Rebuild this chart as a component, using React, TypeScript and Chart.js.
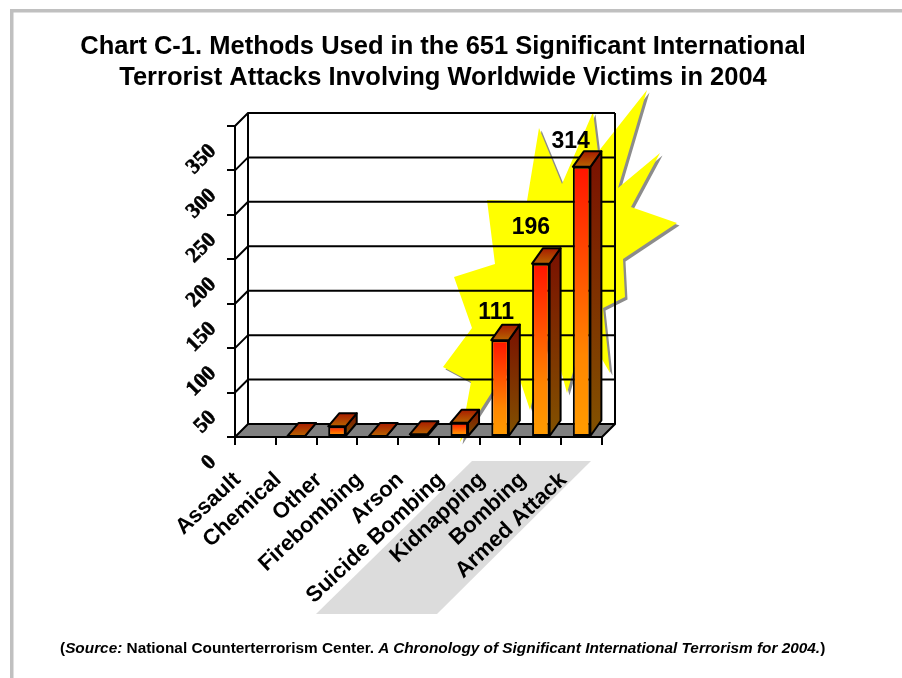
import React, { useEffect, useRef } from "react";
import { Chart, registerables } from "chart.js";

Chart.register(...registerables);

const titleLines = [
  "Chart C-1. Methods Used in the 651 Significant International",
  "Terrorist Attacks Involving Worldwide Victims in 2004",
];
const categories = [
  "Assault",
  "Chemical",
  "Other",
  "Firebombing",
  "Arson",
  "Suicide Bombing",
  "Kidnapping",
  "Bombing",
  "Armed Attack",
];
const barHeights = [0, 1, 12, 1, 3, 16, 109, 195, 304];
const calloutTexts = ["", "", "", "", "", "", "111", "196", "314"];
const yTickStep = 50;
const yTickMax = 350;

const SANS = "'Liberation Sans', Arial, sans-serif";
const SERIF = "'Liberation Serif', 'Times New Roman', serif";
const DEPTH = 13;

function poly(ctx: CanvasRenderingContext2D, pts: number[][]) {
  ctx.beginPath();
  pts.forEach((p, i) => (i ? ctx.lineTo(p[0], p[1]) : ctx.moveTo(p[0], p[1])));
  ctx.closePath();
}

function grad(ctx: CanvasRenderingContext2D, y0: number, y1: number, a: string, b: string) {
  const g = ctx.createLinearGradient(0, y0, 0, y1);
  g.addColorStop(0, a);
  g.addColorStop(1, b);
  return g;
}

const backdrop = {
  id: "backdrop",
  beforeDraw(chart: any) {
    const { ctx, width, height } = chart;
    ctx.save();
    ctx.fillStyle = "#ffffff";
    ctx.fillRect(0, 0, width, height);
    ctx.fillStyle = "#c0c0c0";
    ctx.fillRect(10, 9, width - 10, 3.5);
    ctx.fillRect(10, 9, 3.5, height - 9);

    ctx.fillStyle = "#dcdcdc";
    poly(ctx, [[472, 461], [591, 461], [437, 614], [316, 614]]);
    ctx.fill();

    const star = [
      [647, 90], [618, 188], [660, 153], [631, 207], [677, 223], [623, 259],
      [625, 297], [603, 308], [610, 373], [585, 330], [567, 393], [550, 330],
      [530, 410], [513, 359], [460, 442], [471, 382], [443, 367], [472, 328],
      [454, 277], [495, 264], [487, 200], [527, 201], [539, 128], [562, 184],
      [593, 112], [598, 152],
    ];
    ctx.fillStyle = "#8c8c8c";
    poly(ctx, star.map((p) => [p[0] + 2.5, p[1] + 2.5]));
    ctx.fill();
    ctx.fillStyle = "#ffff00";
    poly(ctx, star);
    ctx.fill();

    // back wall, floor and depth lines, all hung from the chart's own scales
    const { x, y } = chart.scales;
    const l = x.left;
    const r = x.right;
    const b = y.getPixelForValue(0);
    const t = y.getPixelForValue(yTickMax);
    ctx.fillStyle = "#808080";
    poly(ctx, [[l, b], [r, b], [r + DEPTH, b - DEPTH], [l + DEPTH, b - DEPTH]]);
    ctx.fill();
    ctx.strokeStyle = "#000000";
    ctx.lineWidth = 2;
    y.ticks.forEach((tk: any) => {
      const py = y.getPixelForValue(tk.value);
      ctx.beginPath();
      ctx.moveTo(l, py);
      ctx.lineTo(l + DEPTH, py - DEPTH);
      ctx.lineTo(r + DEPTH, py - DEPTH);
      ctx.stroke();
    });
    ctx.beginPath();
    ctx.moveTo(l + DEPTH, b - DEPTH);
    ctx.lineTo(l + DEPTH, t - DEPTH);
    ctx.moveTo(r + DEPTH, t - DEPTH);
    ctx.lineTo(r + DEPTH, b - DEPTH);
    ctx.lineTo(r, b);
    ctx.stroke();
    ctx.restore();
  },
};

const bars3d = {
  id: "bars3d",
  afterDatasetsDraw(chart: any) {
    const { ctx } = chart;
    const meta = chart.getDatasetMeta(0);
    ctx.save();
    ctx.strokeStyle = "#000000";
    ctx.lineWidth = 2;
    ctx.lineJoin = "round";
    meta.data.forEach((bar: any, i: number) => {
      if (!barHeights[i]) return;
      const hw = bar.width / 2;
      const x0 = bar.x - hw;
      const x1 = bar.x + hw;
      const top = bar.y;
      const base = bar.base;
      const dx = 11;
      const dy = barHeights[i] > 50 ? 15.5 : 13;
      ctx.fillStyle = grad(ctx, top - dy, base, "#7a1000", "#825200");
      poly(ctx, [[x1, top], [x1 + dx, top - dy], [x1 + dx, base - dy], [x1, base]]);
      ctx.fill();
      ctx.stroke();
      ctx.fillStyle = grad(ctx, top - dy, top, "#a81c00", "#b86400");
      poly(ctx, [[x0, top], [x0 + dx, top - dy], [x1 + dx, top - dy], [x1, top]]);
      ctx.fill();
      ctx.stroke();
    });
    ctx.fillStyle = "#000000";
    ctx.font = "bold 23px " + SANS;
    ctx.textAlign = "center";
    ctx.textBaseline = "middle";
    const shift: Record<string, number[]> = { "111": [-4, -27], "196": [-10, -36], "314": [-11, -25] };
    meta.data.forEach((bar: any, i: number) => {
      const s = calloutTexts[i];
      if (!s) return;
      ctx.fillText(s, bar.x + shift[s][0], bar.y + shift[s][1]);
    });
    ctx.restore();
  },
};

export default function App() {
  const ref = useRef<HTMLCanvasElement>(null);
  useEffect(() => {
    document.body.style.margin = "0";
    const chart = new Chart(ref.current as HTMLCanvasElement, {
      type: "bar",
      data: {
        labels: categories,
        datasets: [
          {
            data: barHeights,
            barPercentage: 0.43,
            categoryPercentage: 1,
            borderColor: "#000000",
            borderWidth: 2,
            borderSkipped: false,
            backgroundColor: (c: any) => {
              const sy = c.chart.scales.y;
              const v = barHeights[c.dataIndex];
              const top = sy && v !== undefined ? sy.getPixelForValue(v) : NaN;
              const base = sy ? sy.getPixelForValue(0) : NaN;
              if (!Number.isFinite(top) || !Number.isFinite(base)) return "#ff6000";
              const g = grad(c.chart.ctx, top, base, "#ff1400", "#ff9c00");
              g.addColorStop(0.7, "#ff8600");
              return g;
            },
          },
        ],
      },
      options: {
        responsive: false,
        animation: false,
        layout: { padding: { left: 0, right: 16, top: 0, bottom: 0 } },
        plugins: {
          legend: { display: false },
          tooltip: { enabled: false },
          title: {
            display: true,
            text: titleLines,
            color: "#000000",
            font: { family: SANS, size: 25.5, weight: "bold", lineHeight: 1.24 },
            padding: { top: 30.7, bottom: 32 },
          },
        },
        scales: {
          x: {
            offset: true,
            afterFit: (s: any) => {
              s.height = 241;
            },
            border: { display: true, color: "#000000", width: 2 },
            grid: { display: true, drawOnChartArea: false, drawTicks: true, tickLength: 8, color: "#000000", lineWidth: 2 },
            ticks: {
              autoSkip: false,
              minRotation: 43,
              maxRotation: 43,
              labelOffset: -18,
              padding: 22,
              color: "#000000",
              font: { family: SANS, size: 22, weight: "bold" },
            },
          },
          y: {
            min: 0,
            max: yTickMax,
            afterFit: (s: any) => {
              s.width = 235;
            },
            border: { display: true, color: "#000000", width: 2 },
            grid: { display: true, drawOnChartArea: false, drawTicks: true, tickLength: 8, color: "#000000", lineWidth: 2 },
            ticks: {
              stepSize: yTickStep,
              minRotation: 45,
              maxRotation: 45,
              labelOffset: 22,
              padding: 14,
              color: "#000000",
              textStrokeColor: "#000000",
              textStrokeWidth: 0.6,
              font: { family: SERIF, size: 21.5, weight: "bold" },
            },
          },
          spacer: {
            type: "linear",
            position: "right",
            afterFit: (s: any) => {
              s.width = 284;
            },
            border: { display: false },
            grid: { display: false },
            ticks: { display: false },
          },
        },
      },
      plugins: [backdrop, bars3d],
    } as any);
    return () => chart.destroy();
  }, []);
  return (
    <div style={{ position: "relative", width: 902, height: 678, overflow: "hidden" }}>
      <canvas ref={ref} width={902} height={678} style={{ display: "block" }} />
      <div
        style={{
          position: "absolute",
          left: 60,
          top: 640,
          whiteSpace: "nowrap",
          fontFamily: SANS,
          fontWeight: "bold",
          fontSize: 15.36,
          lineHeight: "15px",
          color: "#000",
        }}
      >
        (<i>Source:</i> National Counterterrorism Center. <i>A Chronology of Significant International Terrorism for 2004.</i>)
      </div>
    </div>
  );
}
